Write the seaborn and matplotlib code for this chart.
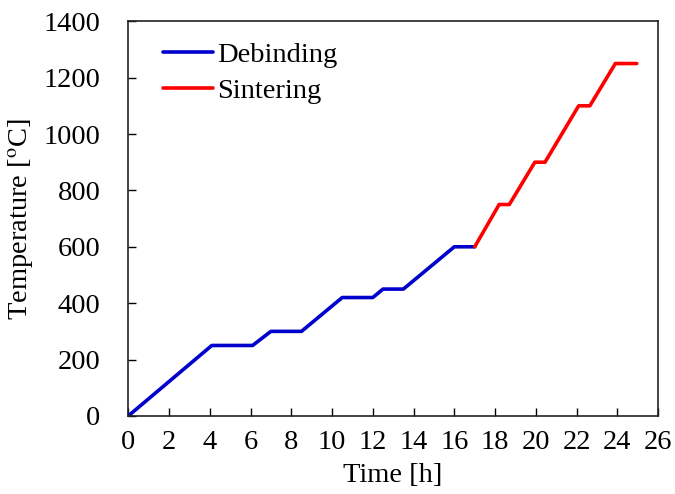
import matplotlib
matplotlib.use("Agg")
import matplotlib.pyplot as plt
import seaborn as sns
import pandas as pd

# firing schedule
deb_time = [0, 4.1, 6.1, 7.0, 8.5, 10.5, 12.0, 12.5, 13.5, 16.0, 17.0]
deb_temp = [0, 250, 250, 300, 300, 420, 420, 450, 450, 600, 600]
sin_time = [17.0, 18.2, 18.7, 19.95, 20.45, 22.1, 22.65, 23.9, 24.95]
sin_temp = [600, 750, 750, 900, 900, 1100, 1100, 1250, 1250]

deb = pd.DataFrame({"Time": deb_time, "Temp": deb_temp})
sin = pd.DataFrame({"Time": sin_time, "Temp": sin_temp})

sns.set_style("ticks")
plt.rcParams['font.family'] = ['Liberation Serif', 'DejaVu Serif']
plt.rcParams['mathtext.fontset'] = 'stix'
plt.rcParams['text.color'] = 'black'
plt.rcParams['axes.labelcolor'] = 'black'
plt.rcParams['xtick.color'] = 'black'
plt.rcParams['ytick.color'] = 'black'

fs = 20.5
fig, ax = plt.subplots(figsize=(6.75, 4.94), dpi=100)
sns.lineplot(data=deb, x="Time", y="Temp", color="#0000CC", lw=2.6,
             label="Debinding", ax=ax, sort=False, estimator=None)
sns.lineplot(data=sin, x="Time", y="Temp", color="#FF0000", lw=2.6,
             label="Sintering", ax=ax, sort=False, estimator=None)

ax.set_xlim(0, 26)
ax.set_ylim(0, 1400)
ax.set_xticks(range(0, 27, 2))
ax.set_yticks(range(0, 1401, 200))
ax.tick_params(direction="in", length=6, width=1, labelsize=fs)
ax.tick_params(axis="x", pad=10)
ax.tick_params(axis="y", pad=20)
for s in ax.spines.values():
    s.set_linewidth(1.2)
    s.set_color("#222222")
ax.set_xlabel("Time [h]", fontsize=fs, labelpad=6)
ax.set_ylabel("Temperature [$^{\\mathrm{o}}$C]", fontsize=fs, labelpad=6)

ax.legend(loc="upper left", frameon=False, fontsize=fs, handlelength=1.75,
          handletextpad=0.15, labelspacing=0.35, borderaxespad=0,
          bbox_to_anchor=(0.045, 0.977))

fig.subplots_adjust(left=0.19, right=0.975, top=0.957, bottom=0.158)
fig.savefig("out.png", dpi=100)
